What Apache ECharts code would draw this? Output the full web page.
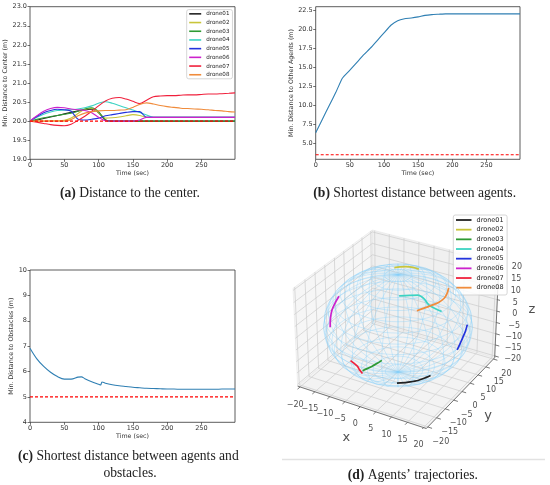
<!DOCTYPE html>
<html><head><meta charset="utf-8">
<script src="https://cdn.jsdelivr.net/npm/echarts@6/dist/echarts.min.js"></script>
<style>html,body{margin:0;padding:0;background:#fff}#c{width:550px;height:485px}</style>
</head><body><div id="c"></div>
<script>
// ---------------- DATA ----------------
const droneNames = ['drone01','drone02','drone03','drone04','drone05','drone06','drone07','drone08'];
const droneColors = ['#222222','#c9c53a','#2e9a34','#3cd3c3','#2233dd','#cc22cc','#f0203c','#f08c3c'];

// (a) distance to center
const timeA = [0,10,20,30,40,50,60,70,80,90,100,110,120,130,140,150,160,170,180,190,200,210,220,230,240,250,260,270,280,290,299];
const distCenter01 = [20.00,20.03,20.07,20.11,20.15,20.19,20.23,20.27,20.30,20.31,20.22,20.03,20.00,20.00,20.00,20.00,20.00,20.00,20.00,20.00,20.00,20.00,20.00,20.00,20.00,20.00,20.00,20.00,20.00,20.00,20.00];
const distCenter02 = [20.00,20.00,20.00,20.01,20.01,20.02,20.08,20.20,20.31,20.33,20.22,20.08,20.09,20.11,20.14,20.17,20.15,20.10,20.10,20.10,20.10,20.10,20.10,20.10,20.10,20.10,20.10,20.10,20.10,20.10,20.10];
const distCenter03 = [20.00,20.05,20.09,20.12,20.15,20.18,20.21,20.26,20.32,20.35,20.25,20.03,20.00,20.00,20.00,20.00,20.00,20.00,20.00,20.00,20.00,20.00,20.00,20.00,20.00,20.00,20.00,20.00,20.00,20.00,20.00];
const distCenter04 = [20.00,20.10,20.18,20.24,20.28,20.29,20.30,20.32,20.35,20.40,20.47,20.51,20.47,20.41,20.35,20.29,20.23,20.16,20.10,20.10,20.10,20.10,20.10,20.10,20.10,20.10,20.10,20.10,20.10,20.10,20.10];
const distCenter05 = [20.00,20.12,20.22,20.28,20.31,20.30,20.26,20.05,20.03,20.05,20.08,20.14,20.17,20.20,20.23,20.25,20.25,20.10,20.10,20.10,20.10,20.10,20.10,20.10,20.10,20.10,20.10,20.10,20.10,20.10,20.10];
const distCenter06 = [20.00,20.14,20.26,20.33,20.36,20.35,20.32,20.30,20.28,20.22,20.10,20.01,20.00,20.00,20.00,20.00,20.03,20.10,20.10,20.10,20.10,20.10,20.10,20.10,20.10,20.10,20.10,20.10,20.10,20.10,20.10];
const distCenter07 = [20.00,19.97,19.94,19.91,19.89,19.88,19.92,20.02,20.13,20.26,20.40,20.53,20.60,20.62,20.58,20.52,20.46,20.55,20.64,20.66,20.67,20.67,20.68,20.69,20.69,20.70,20.71,20.71,20.72,20.73,20.74];
const distCenter08 = [20.00,20.00,20.00,20.00,20.00,20.00,20.04,20.14,20.21,20.25,20.27,20.28,20.28,20.29,20.30,20.36,20.44,20.48,20.45,20.41,20.38,20.36,20.34,20.33,20.32,20.31,20.30,20.28,20.27,20.25,20.24];
const distCenterAll = [distCenter01,distCenter02,distCenter03,distCenter04,distCenter05,distCenter06,distCenter07,distCenter08];
const refCenter = 20.0;

// (b) shortest distance between agents
const timeB = [0,10,20,30,39,50,60,70,80,90,100,110,120,130,140,150,160,170,180,190,200,220,240,260,280,299];
const minDistAgents = [6.4,8.2,10.0,11.8,13.55,14.6,15.6,16.6,17.5,18.5,19.5,20.5,21.1,21.35,21.45,21.6,21.8,21.9,21.95,22.0,22.0,22.0,22.0,22.0,22.0,22.0];
const refAgents = 3.5;

// (c) shortest distance to obstacles
const timeC = [0,10,20,30,40,50,60,70,75,80,90,100,103,105,110,120,130,140,150,160,170,180,190,200,210,220,230,240,250,260,270,280,290,299];
const minDistObst = [6.92,6.5,6.2,5.97,5.8,5.7,5.7,5.78,5.79,5.72,5.6,5.5,5.47,5.59,5.54,5.48,5.44,5.41,5.38,5.36,5.34,5.33,5.32,5.31,5.31,5.30,5.30,5.30,5.30,5.30,5.30,5.31,5.31,5.31];
const refObst = 5.0;

// tick labels
const ticksTime = [0,50,100,150,200,250];
const ticksB = [5,7.5,10,12.5,15,17.5,20,22.5];
const ticks3d = [-20,-15,-10,-5,0,5,10,15,20];

// (d) trajectories (x, y, z)
const traj01 = [[7.3,-13.2,-13.1],[9.9,-12.2,-12.4],[12.0,-10.5,-12.1],[14.2,-9.0,-10.8],[15.2,-8.4,-10.0]];
const traj02 = [[-5.0,6.6,18.2],[-4.6,9.1,17.2],[-4.0,11.8,15.9],[-2.3,12.6,15.7],[-0.7,13.1,15.2]];
const traj03 = [[-0.4,-18.7,-7.0],[1.4,-19.2,-5.0],[3.2,-19.5,-3.0],[4.6,-19.4,-1.4],[6.0,-19.1,0.3]];
const traj04 = [[4.4,-7.0,18.2],[6.7,-5.2,18.1],[8.3,-3.6,17.8],[10.1,-3.4,16.9],[12.0,-4.1,15.5],[13.6,-3.5,14.2],[15.1,-2.4,12.8]];
const traj05 = [[18.8,6.1,3.1],[19.6,3.4,2.3],[19.9,1.1,1.1],[20.0,-0.6,-0.3],[19.8,-1.7,-1.9]];
const traj06 = [[-14.8,-7.4,11.3],[-15.0,-9.2,9.5],[-15.0,-10.8,7.7],[-14.4,-12.6,5.8],[-13.3,-14.6,3.4]];
const traj07 = [[-3.9,-19.2,-3.8],[-2.6,-19.4,-4.3],[-1.7,-19.2,-5.3],[-1.4,-18.7,-7.0],[-1.0,-17.8,-9.1]];
const traj08 = [[11.2,9.0,13.9],[12.8,4.9,14.6],[13.4,2.2,14.7],[13.3,-0.9,14.9],[12.4,-4.1,15.2],[10.5,-8.0,15.0]];
const trajAll = [traj01,traj02,traj03,traj04,traj05,traj06,traj07,traj08];
const sphereRadius = 21;
const wireLats = [-80,-70,-60,-50,-40,-30,-20,-10,0,10,20,30,40,50,60,70,80];
const wireLons = [0,12,24,36,48,60,72,84,96,108,120,132,144,156,168,180,192,204,216,228,240,252,264,276,288,300,312,324,336,348];
const axisLim3d = [-20,20];

// ---------------- 3D PROJECTION (matplotlib-like) ----------------
const VIEW = {elev:30, azim:-60, dist:10};
const BOX_ASPECT = [4,4,3];
const dot=(a,b)=>a[0]*b[0]+a[1]*b[1]+a[2]*b[2];
const cross=(a,b)=>[a[1]*b[2]-a[2]*b[1],a[2]*b[0]-a[0]*b[2],a[0]*b[1]-a[1]*b[0]];
const unit=a=>{const n=Math.hypot(a[0],a[1],a[2]);return a.map(c=>c/n);};
const project = (function(){
  const nn=Math.hypot(...BOX_ASPECT);
  const asp=BOX_ASPECT.map(a=>a*1.8294640721620434/nn);
  const el=VIEW.elev*Math.PI/180, az=VIEW.azim*Math.PI/180;
  const R=asp.map(a=>a/2);
  const dir=[Math.cos(el)*Math.cos(az),Math.cos(el)*Math.sin(az),Math.sin(el)];
  const E=R.map((r,i)=>r+VIEW.dist*dir[i]);
  const n=unit(dir), u=unit(cross([0,0,1],n)), v=cross(n,u);
  const span=axisLim3d[1]-axisLim3d[0];
  return p=>{
    const w=p.map((c,i)=>(c-axisLim3d[0])/span*asp[i]);
    const d=w.map((c,i)=>c-E[i]);
    const vz=dot(n,d);
    return [dot(u,d)/(-vz), dot(v,d)/(-vz)];
  };
})();
const PAD=(axisLim3d[1]-axisLim3d[0])/48, LO=axisLim3d[0]-PAD, HI=axisLim3d[1]+PAD;
const cornerPts=[];
for(const x of [LO,HI]) for(const y of [LO,HI]) for(const z of [LO,HI]) cornerPts.push(project([x,y,z]));
const pxMin=Math.min(...cornerPts.map(c=>c[0])), pxMax=Math.max(...cornerPts.map(c=>c[0]));
const pyMin=Math.min(...cornerPts.map(c=>c[1])), pyMax=Math.max(...cornerPts.map(c=>c[1]));

const panes=[
  {c:[[LO,LO,LO],[LO,HI,LO],[LO,HI,HI],[LO,LO,HI]], color:'#f6f6f6'},
  {c:[[LO,HI,LO],[HI,HI,LO],[HI,HI,HI],[LO,HI,HI]], color:'#f0f0f0'},
  {c:[[LO,LO,LO],[HI,LO,LO],[HI,HI,LO],[LO,HI,LO]], color:'#f3f3f3'}
];
const seg=(a,b)=>({coords:[project(a),project(b)]});
const gridSegs=[];
ticks3d.forEach(t=>{
  gridSegs.push(seg([t,LO,LO],[t,HI,LO]), seg([LO,t,LO],[HI,t,LO]));   // floor
  gridSegs.push(seg([LO,t,LO],[LO,t,HI]), seg([LO,LO,t],[LO,HI,t]));   // x=LO wall
  gridSegs.push(seg([t,HI,LO],[t,HI,HI]), seg([LO,HI,t],[HI,HI,t]));   // y=HI wall
});
const axisSegs=[seg([LO,LO,LO],[HI,LO,LO]), seg([HI,LO,LO],[HI,HI,LO]), seg([HI,HI,LO],[HI,HI,HI])];
ticks3d.forEach(t=>{
  axisSegs.push(seg([t,LO,LO],[t,LO-1.3,LO]));
  axisSegs.push(seg([HI,t,LO],[HI+1.3,t,LO]));
  axisSegs.push(seg([HI,HI,t],[HI+1.3,HI,t]));
});
const wireLines=[];
const rad=d=>d*Math.PI/180;
const sph=(lat,lon)=>[sphereRadius*Math.cos(rad(lat))*Math.cos(rad(lon)),sphereRadius*Math.cos(rad(lat))*Math.sin(rad(lon)),sphereRadius*Math.sin(rad(lat))];
wireLons.forEach(lon=>{const pts=[];for(let la=-90;la<=90;la+=5)pts.push(project(sph(la,lon)));wireLines.push({coords:pts});});
wireLats.forEach(lat=>{const pts=[];for(let lo=0;lo<=360;lo+=6)pts.push(project(sph(lat,lo)));wireLines.push({coords:pts});});

const minus=t=>t<0?'\u2212'+Math.abs(t):String(t);
const FONT='DejaVu Sans';

// ---------------- OPTION ----------------
const grids=[
  {left:30,top:6.7,width:205,height:152.6},
  {left:315.7,top:6.7,width:204.3,height:152.6},
  {left:30,top:270,width:205,height:152.3}
].map(g=>Object.assign(g,{show:true,borderColor:'#333',borderWidth:0.8,backgroundColor:'#fff'}));
grids.push({left:293,top:230,width:206,height:198.5,show:false});

const tickStyle={show:true,length:2.5,lineStyle:{color:'#333',width:0.7}};
const lblStyle={fontSize:6.5,color:'#333',fontFamily:FONT};
function xAx(gi){return {type:'value',gridIndex:gi,min:0,max:299,axisLine:{show:false},
  axisTick:Object.assign({customValues:ticksTime},tickStyle),
  axisLabel:Object.assign({customValues:ticksTime,margin:3},lblStyle),splitLine:{show:false},
  name:'Time (sec)',nameLocation:'middle',nameGap:10.5,nameTextStyle:{fontSize:6.3,color:'#333',fontFamily:FONT}};}
function yAx(gi,o){return Object.assign({type:'value',gridIndex:gi,axisLine:{show:false},axisTick:tickStyle,
  axisLabel:Object.assign({margin:3},lblStyle),splitLine:{show:false},nameLocation:'middle',nameRotate:90,
  nameTextStyle:{fontSize:6.3,color:'#333',fontFamily:FONT}},o);}

const series=[];
distCenterAll.forEach((arr,i)=>series.push({type:'line',name:droneNames[i],xAxisIndex:0,yAxisIndex:0,
  data:timeA.map((t,j)=>[t,arr[j]]),showSymbol:false,smooth:0.3,
  lineStyle:{width:1.1,color:droneColors[i]},itemStyle:{color:droneColors[i]},z:3}));
series.push({type:'line',xAxisIndex:0,yAxisIndex:0,data:[[timeA[0],refCenter],[timeA[timeA.length-1],refCenter]],
  showSymbol:false,lineStyle:{type:[3,2],color:'#ff0000',width:1.1},z:4});
series.push({type:'line',xAxisIndex:1,yAxisIndex:1,data:timeB.map((t,j)=>[t,minDistAgents[j]]),showSymbol:false,smooth:0.15,
  lineStyle:{width:1.1,color:'#2f7fb3'},z:3});
series.push({type:'line',xAxisIndex:1,yAxisIndex:1,data:[[timeB[0],refAgents],[timeB[timeB.length-1],refAgents]],
  showSymbol:false,lineStyle:{type:[3,2],color:'#ff0000',width:1.1},z:4});
series.push({type:'line',xAxisIndex:2,yAxisIndex:2,data:timeC.map((t,j)=>[t,minDistObst[j]]),showSymbol:false,smooth:0.3,
  lineStyle:{width:1.1,color:'#2f7fb3'},z:3});
series.push({type:'line',xAxisIndex:2,yAxisIndex:2,data:[[timeC[0],refObst],[timeC[timeC.length-1],refObst]],
  showSymbol:false,lineStyle:{type:[3,2],color:'#ff0000',width:1.1},z:4});

// 3D panel
series.push({type:'custom',xAxisIndex:3,yAxisIndex:3,z:1,clip:false,
  data:panes.map((p,i)=>{const c=project(p.c[0]);return [c[0],c[1],i];}),
  renderItem:(params,api)=>{const p=panes[api.value(2)];
    return {type:'polygon',shape:{points:p.c.map(q=>api.coord(project(q)))},style:{fill:p.color,stroke:'#e2e2e2',lineWidth:0.5}};}});
series.push({type:'lines',coordinateSystem:'cartesian2d',xAxisIndex:3,yAxisIndex:3,z:2,data:gridSegs,
  lineStyle:{color:'#cbcbcb',width:0.7,opacity:1}});
series.push({type:'lines',coordinateSystem:'cartesian2d',xAxisIndex:3,yAxisIndex:3,z:3,data:axisSegs,
  lineStyle:{color:'#555',width:0.8,opacity:1}});
series.push({type:'lines',coordinateSystem:'cartesian2d',xAxisIndex:3,yAxisIndex:3,z:4,polyline:true,data:wireLines,
  lineStyle:{color:'#87cefa',width:0.6,opacity:0.6}});
trajAll.forEach((tr,i)=>series.push({type:'line',name:droneNames[i],xAxisIndex:3,yAxisIndex:3,z:5,
  data:tr.map(project),showSymbol:false,smooth:0.3,lineStyle:{width:1.7,color:droneColors[i]},itemStyle:{color:droneColors[i]}}));
function lblSeries(items,off,size){return {type:'scatter',xAxisIndex:3,yAxisIndex:3,z:6,symbolSize:0,silent:true,
  itemStyle:{color:'transparent'},
  data:items.map(it=>({value:project(it.p),name:it.t})),
  label:{show:true,position:'inside',offset:off,formatter:'{b}',fontSize:size,color:'#222',fontFamily:FONT}};}
series.push(lblSeries(ticks3d.map(t=>({p:[t,LO,LO],t:minus(t)})),[-5,17.5],8));
series.push(lblSeries(ticks3d.map(t=>({p:[HI,t,LO],t:minus(t)})),[13,14.5],8));
series.push(lblSeries(ticks3d.map(t=>({p:[HI,HI,t],t:minus(t)})),[18,3],8));
series.push(lblSeries([{p:[0,LO,LO],t:'x'}],[-14,31],13));
series.push(lblSeries([{p:[HI,0,LO],t:'y'}],[26,24],13));
series.push(lblSeries([{p:[HI,HI,0],t:'z'}],[35,-1.6],13));

const capFont='Liberation Serif';
const CAP=13.6;
function cap(x,y,b,rest){return {type:'text',x:x,y:y,style:{text:'{b|'+b+'}'+rest,align:'center',verticalAlign:'middle',
  fontFamily:capFont,fontSize:CAP,fill:'#222',rich:{b:{fontWeight:'bold',fontFamily:capFont,fontSize:CAP,fill:'#222'}}}};}
function plain(x,y,t){return {type:'text',x:x,y:y,style:{text:t,align:'center',verticalAlign:'middle',fontFamily:capFont,fontSize:CAP,fill:'#222'}};}

const option={
  animation:false,
  grid:grids,
  xAxis:[xAx(0),xAx(1),xAx(2),{type:'value',gridIndex:3,min:pxMin,max:pxMax,show:false}],
  yAxis:[
    yAx(0,{min:19,max:23,interval:0.5,axisLabel:Object.assign({margin:3,formatter:v=>v.toFixed(1)},lblStyle),name:'Min. Distance to Center (m)',nameGap:20}),
    yAx(1,{min:2.9,max:22.94,axisTick:Object.assign({customValues:ticksB},tickStyle),axisLabel:Object.assign({margin:3,customValues:ticksB,formatter:v=>v.toFixed(1)},lblStyle),name:'Min. Distance to Other Agents (m)',nameGap:19.2}),
    yAx(2,{min:4,max:10,interval:1,name:'Min. Distance to Obstacles (m)',nameGap:13.5}),
    {type:'value',gridIndex:3,min:pyMin,max:pyMax,show:false}
  ],
  legend:[
    {data:droneNames,orient:'vertical',left:186.7,top:9.6,icon:'rect',itemWidth:12,itemHeight:1.6,itemGap:1.4,selectedMode:false,
     padding:[0.6,3,0.4,2.5],borderColor:'#cccccc',borderWidth:0.8,borderRadius:2,backgroundColor:'rgba(255,255,255,0.85)',
     textStyle:{fontSize:5.6,lineHeight:7.3,color:'#222',fontFamily:FONT}},
    {data:droneNames,orient:'vertical',left:453.3,top:215,icon:'rect',itemWidth:15.5,itemHeight:1.8,itemGap:1.67,selectedMode:false,
     padding:[1,3.6,3.3,2.7],borderColor:'#cccccc',borderWidth:0.8,borderRadius:2,backgroundColor:'rgba(255,255,255,0.85)',
     textStyle:{fontSize:6.5,lineHeight:8,color:'#222',fontFamily:FONT}}
  ],
  graphic:[
    cap(130,193,'(a)',' Distance to the center.'),
    cap(414.7,193.3,'(b)',' Shortest distance between agents.'),
    cap(128.3,456.7,'(c)',' Shortest distance between agents and'),
    plain(130,473.3,'obstacles.'),
    cap(412.8,475,'(d)',' Agents\u2019 trajectories.'),
    {type:'line',shape:{x1:282,y1:459.5,x2:545,y2:459.5},style:{stroke:'#e2e2e2',lineWidth:1.5}}
  ],
  series:series
};
const chart=echarts.init(document.getElementById('c'),null,{renderer:'canvas',width:550,height:485});
chart.setOption(option);
</script></body></html>
